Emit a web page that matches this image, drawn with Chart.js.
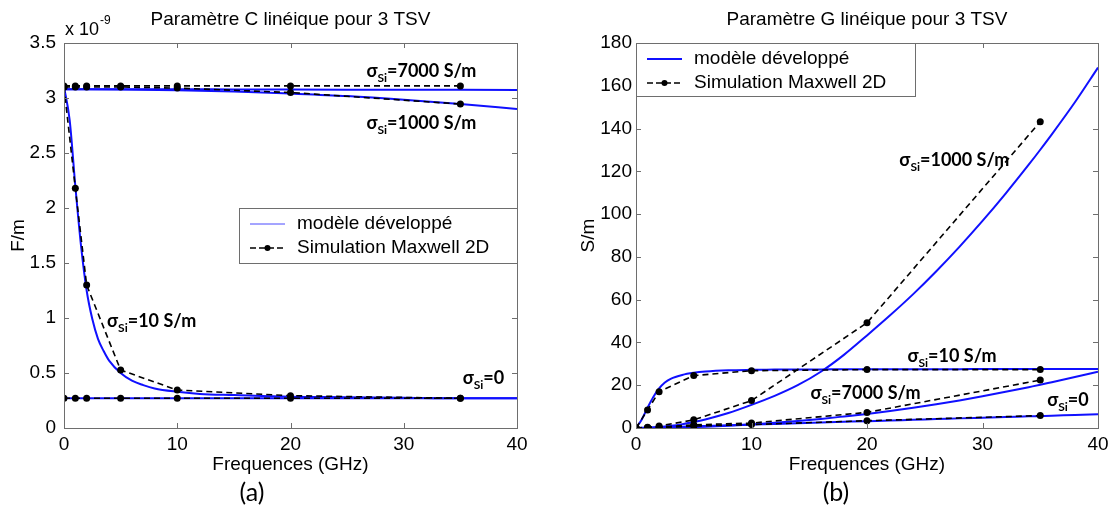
<!DOCTYPE html>
<html>
<head>
<meta charset="utf-8">
<script src="https://cdn.jsdelivr.net/npm/chart.js@4.4.1/dist/chart.umd.min.js"></script>
<style>
body { margin: 0; background: #fff; width: 1114px; height: 513px; overflow: hidden; position: relative; }
.box { position: absolute; top: 0; width: 557px; height: 513px; }
.cap { position: absolute; top: 476px; width: 60px; text-align: center; font-family: Lato, sans-serif; font-size: 25px; color: #000; }
</style>
</head>
<body>
<div class="box" style="left:0"><canvas id="chartC"></canvas></div>
<div class="box" style="left:557px"><canvas id="chartG"></canvas></div>
<div class="cap" style="left:222px">(a)</div>
<div class="cap" style="left:806px">(b)</div>
<script>
// frequencies of the Maxwell 2D simulation points (GHz)
var simFreq = [0, 1, 2, 5, 10, 20, 35];

// C lineique (x 1e-9 F/m), simulation
var cSim7000 = [3.11, 3.11, 3.11, 3.11, 3.11, 3.11, 3.11];
var cSim1000 = [3.10, 3.10, 3.10, 3.10, 3.09, 3.05, 2.945];
var cSim10 = [3.10, 2.18, 1.30, 0.527, 0.345, 0.294, 0.27];
var cSim0 = [0.27, 0.27, 0.27, 0.27, 0.27, 0.27, 0.27];

// C lineique, modele
var cFreqFast = [0, 0.5, 1, 1.5, 2, 2.5, 3, 3.5, 4, 5, 6, 7, 8, 10, 12, 15, 20, 25, 30, 35, 40];
var cMod10 = [3.10, 2.80, 2.20, 1.66, 1.25, 0.99, 0.81, 0.70, 0.61, 0.50, 0.43, 0.39, 0.36, 0.33, 0.31, 0.30, 0.285, 0.28, 0.275, 0.27, 0.27];
var cFreqSlow = [0, 5, 10, 15, 20, 25, 30, 35, 40];
var cMod7000 = [3.08, 3.08, 3.08, 3.078, 3.077, 3.076, 3.075, 3.074, 3.073];
var cMod1000 = [3.08, 3.078, 3.07, 3.058, 3.04, 3.018, 2.985, 2.945, 2.90];
var cMod0 = [0.27, 0.27, 0.27, 0.27, 0.27, 0.27, 0.27, 0.27, 0.27];

// G lineique (S/m), simulation
var gSim1000 = [0, 0.3, 0.9, 3.8, 12.8, 49.2, 143.2];
var gSim10 = [0, 8.4, 17, 24.5, 26.8, 27.3, 27.3];
var gSim7000 = [0, 0.1, 0.3, 1.5, 2.3, 7.3, 22.4];
var gSim0 = [0, 0.1, 0.2, 0.9, 1.6, 3.4, 5.8];

// G lineique, modele
var gFreq = [0, 0.5, 1, 1.5, 2, 2.5, 3, 4, 5, 6, 8, 10, 12, 14, 16, 18, 20, 22, 24, 26, 28, 30, 32, 34, 35, 36, 38, 40];
var gMod10 = [0, 4, 9.5, 14.5, 18.5, 21.3, 23, 24.8, 25.8, 26.4, 27, 27.2, 27.3, 27.4, 27.4, 27.5, 27.5, 27.5, 27.5, 27.5, 27.5, 27.6, 27.6, 27.6, 27.6, 27.6, 27.6, 27.6];
var gMod1000 = [0, 0.03, 0.11, 0.25, 0.45, 0.7, 1.0, 1.8, 2.8, 4.0, 7.0, 10.8, 15.0, 20.0, 26.3, 34.2, 43.3, 52.7, 62.6, 73.3, 84.7, 96.8, 109.6, 123.1, 130.1, 137.3, 152.3, 168.5];
var gMod7000 = [0, 0, 0.02, 0.04, 0.07, 0.1, 0.15, 0.27, 0.42, 0.6, 1.05, 1.65, 2.4, 3.25, 4.25, 5.4, 6.6, 8, 9.5, 11.1, 12.9, 14.8, 16.9, 19.1, 20.2, 21.4, 23.8, 26.3];
var gMod0 = [0, 0.08, 0.16, 0.24, 0.32, 0.4, 0.48, 0.64, 0.8, 0.96, 1.28, 1.6, 1.92, 2.24, 2.56, 2.88, 3.2, 3.5, 3.85, 4.15, 4.5, 4.8, 5.1, 5.45, 5.6, 5.75, 6.1, 6.4];

// ticks
var xTicks = [0, 10, 20, 30, 40];
var cTicks = [0, 0.5, 1, 1.5, 2, 2.5, 3, 3.5];
var gTicks = [0, 20, 40, 60, 80, 100, 120, 140, 160, 180];

// curve labels (data coordinates)
var cLabels = [
    { x: 26.7, y: 3.24, t: '=7000 S/m' },
    { x: 26.7, y: 2.77, t: '=1000 S/m' },
    { x: 3.8, y: 0.97, t: '=10 S/m' },
    { x: 35.2, y: 0.45, t: '=0' }
];
var gLabels = [
    { x: 22.8, y: 125.3, t: '=1000 S/m' },
    { x: 23.5, y: 33.7, t: '=10 S/m' },
    { x: 15.1, y: 16.5, t: '=7000 S/m' },
    { x: 35.6, y: 13.1, t: '=0' }
];

var legendNames = ['modèle développé', 'Simulation Maxwell 2D'];
var BLUE = '#1010ff';
var AXIS = '#6e6e6e';
var FONT = '"Liberation Sans", Arial, sans-serif';
var LBL = 'bold 18px Lato, sans-serif';
var SUB = 'bold 12px Lato, sans-serif';

function pts(xs, ys) {
    return xs.map(function (x, i) { return { x: x, y: ys[i] }; });
}

function simSet(ys) {
    return {
        data: pts(simFreq, ys),
        borderColor: '#000',
        backgroundColor: '#000',
        borderWidth: 1.6,
        borderDash: [6, 4],
        pointRadius: 3.5,
        pointBorderWidth: 0,
        tension: 0
    };
}

function modSet(xs, ys) {
    return {
        data: pts(xs, ys),
        borderColor: BLUE,
        borderWidth: 2,
        pointRadius: 0,
        cubicInterpolationMode: 'monotone'
    };
}

var decor = {
    id: 'decor',
    afterDraw: function (chart, args, o) {
        var ctx = chart.ctx;
        var a = chart.chartArea;
        var xs = chart.scales.x, ys = chart.scales.y;
        ctx.save();

        // box + inward ticks
        ctx.strokeStyle = AXIS;
        ctx.lineWidth = 1;
        ctx.strokeRect(Math.round(a.left) + 0.5, Math.round(a.top) + 0.5, Math.round(a.right - a.left), Math.round(a.bottom - a.top));
        ctx.beginPath();
        xs.ticks.forEach(function (t) {
            var px = Math.round(xs.getPixelForValue(t.value)) + 0.5;
            ctx.moveTo(px, a.bottom); ctx.lineTo(px, a.bottom - 5);
            ctx.moveTo(px, a.top); ctx.lineTo(px, a.top + 5);
        });
        ys.ticks.forEach(function (t) {
            var py = Math.round(ys.getPixelForValue(t.value)) + 0.5;
            ctx.moveTo(a.left, py); ctx.lineTo(a.left + 5, py);
            ctx.moveTo(a.right, py); ctx.lineTo(a.right - 5, py);
        });
        ctx.stroke();

        // title
        ctx.fillStyle = '#000';
        ctx.font = '19px ' + FONT;
        ctx.textAlign = 'center';
        ctx.textBaseline = 'middle';
        ctx.fillText(o.title, (a.left + a.right) / 2, 20);

        // exponent
        if (o.exponent) {
            ctx.textAlign = 'left';
            ctx.textBaseline = 'alphabetic';
            ctx.font = '18px ' + FONT;
            ctx.fillText('x 10', a.left + 1, 35);
            var w = ctx.measureText('x 10').width;
            ctx.font = '12px ' + FONT;
            ctx.fillText(o.exponent, a.left + 2 + w, 24);
        }

        // curve labels
        o.labels.forEach(function (l) {
            var x = xs.getPixelForValue(l.x), y = ys.getPixelForValue(l.y);
            ctx.textAlign = 'left';
            ctx.textBaseline = 'middle';
            ctx.font = LBL;
            ctx.fillText('σ', x, y);
            x += ctx.measureText('σ').width;
            ctx.font = SUB;
            ctx.fillText('Si', x, y + 7);
            x += ctx.measureText('Si').width;
            ctx.font = LBL;
            ctx.fillText(l.t, x, y);
        });

        // legend
        var L = o.legend;
        var lx = L.fromRight ? a.right - L.w : a.left;
        var ly = a.top + L.dy;
        ctx.fillStyle = '#fff';
        ctx.fillRect(lx, ly, L.w, L.h);
        ctx.strokeStyle = AXIS;
        ctx.strokeRect(Math.round(lx) + 0.5, Math.round(ly) + 0.5, L.w, L.h);
        var r1 = ly + 16, r2 = ly + 40;
        ctx.strokeStyle = L.blue;
        ctx.lineWidth = L.blueWidth;
        ctx.beginPath(); ctx.moveTo(lx + 11, r1); ctx.lineTo(lx + 46, r1); ctx.stroke();
        ctx.strokeStyle = '#000';
        ctx.lineWidth = 1.6;
        ctx.setLineDash([6, 3]);
        ctx.beginPath(); ctx.moveTo(lx + 11, r2); ctx.lineTo(lx + 46, r2); ctx.stroke();
        ctx.setLineDash([]);
        ctx.fillStyle = '#000';
        ctx.beginPath(); ctx.arc(lx + 28.5, r2, 3, 0, Math.PI * 2); ctx.fill();
        ctx.font = '19px ' + FONT;
        ctx.textAlign = 'left';
        ctx.textBaseline = 'middle';
        ctx.fillText(legendNames[0], lx + 58, r1);
        ctx.fillText(legendNames[1], lx + 58, r2);
        ctx.restore();
    }
};

function makeChart(id, sets, yMax, yTicks, yTitle, yWidth, yPad, titlePad, padRight, decorOpts) {
    return new Chart(document.getElementById(id), {
        type: 'scatter',
        data: { datasets: sets },
        options: {
            responsive: true,
            maintainAspectRatio: false,
            animation: false,
            showLine: true,
            layout: { padding: { top: 43, right: padRight, bottom: 30, left: 0 } },
            plugins: { legend: { display: false }, tooltip: { enabled: false }, decor: decorOpts },
            scales: {
                x: {
                    type: 'linear', min: 0, max: 40,
                    afterBuildTicks: function (s) { s.ticks = xTicks.map(function (v) { return { value: v }; }); },
                    afterFit: function (s) { s.height = 55; },
                    grid: { display: false, drawTicks: false },
                    border: { display: false },
                    ticks: { color: '#000', padding: 5, maxRotation: 0, font: { family: FONT, size: 19 },
                        callback: function (v) { return String(v); } },
                    title: { display: true, text: 'Frequences (GHz)', color: '#000', padding: { top: 0, bottom: 7 }, font: { family: FONT, size: 19 } }
                },
                y: {
                    type: 'linear', min: 0, max: yMax,
                    afterBuildTicks: function (s) { s.ticks = yTicks.map(function (v) { return { value: v }; }); },
                    afterFit: function (s) { s.width = yWidth; },
                    grid: { display: false, drawTicks: false },
                    border: { display: false },
                    ticks: { color: '#000', padding: yPad, font: { family: FONT, size: 19 },
                        callback: function (v) { return String(v); } },
                    title: { display: true, text: yTitle, color: '#000', padding: { top: titlePad, bottom: 0 }, font: { family: FONT, size: 19 } }
                }
            }
        },
        plugins: [decor]
    });
}

makeChart('chartC', [
    simSet(cSim7000), simSet(cSim1000), simSet(cSim10), simSet(cSim0),
    modSet(cFreqSlow, cMod7000), modSet(cFreqSlow, cMod1000), modSet(cFreqFast, cMod10), modSet(cFreqSlow, cMod0)
], 3.5, cTicks, 'F/m', 64, 8, 7, 40, {
    title: 'Paramètre C linéique pour 3 TSV',
    exponent: '-9',
    labels: cLabels,
    legend: { fromRight: true, dy: 165, w: 278, h: 55, blue: '#4a4aff', blueWidth: 1 }
});

makeChart('chartG', [
    simSet(gSim1000), simSet(gSim10), simSet(gSim7000), simSet(gSim0),
    modSet(gFreq, gMod1000), modSet(gFreq, gMod10), modSet(gFreq, gMod7000), modSet(gFreq, gMod0)
], 180, gTicks, 'S/m', 79, 4, 20, 16, {
    title: 'Paramètre G linéique pour 3 TSV',
    exponent: null,
    labels: gLabels,
    legend: { fromRight: false, dy: 0, w: 279, h: 53, blue: BLUE, blueWidth: 2 }
});
</script>
</body>
</html>
